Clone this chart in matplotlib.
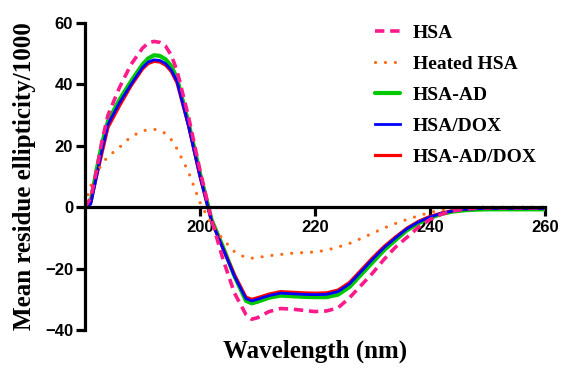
import matplotlib.pyplot as plt

# wavelength grid (nm) shared by all spectra
wl = [180, 181, 182, 183, 184, 186, 188, 190, 191, 192, 193, 194, 195, 196, 198, 200,
      202, 204, 206, 208, 209, 210, 212, 214, 216, 218, 220, 222, 224, 226,
      228, 230, 232, 234, 236, 238, 240, 242, 244, 246, 248, 250, 252, 254,
      256, 258, 260]

hsa = [0, 3, 12, 22, 30, 39, 46.5, 51.8, 53.5, 54, 53.7, 52.5, 49.5, 44.5, 29.5, 12,
       -4, -17, -28, -35, -36.5, -36, -34, -33, -33.2, -33.6, -34, -33.8, -32.8, -29.5,
       -25.5, -21.5, -17, -13, -9.8, -6.5, -4, -2.3, -1.2, -0.6, -0.3, -0.2, -0.2, -0.2,
       -0.2, -0.2, -0.2]

heated = [1, 7, 11, 14.3, 16.5, 19.5, 23, 24.8, 25.3, 25.4, 25, 24, 22, 19, 11.5, 1.5,
          -5.5, -10.5, -14.5, -16.5, -16.6, -16.4, -15.8, -15.4, -15, -14.8, -14.6, -14, -13, -11.8,
          -10.2, -8.5, -6.8, -5.3, -4, -2.8, -1.7, -0.9, -0.4, -0.2, 0, 0, 0, 0,
          0, 0, 0]

hsa_ad = [0, 2, 12, 21, 28, 35, 41, 46.5, 48.5, 49.5, 49.3, 48.2, 46, 42, 27.5, 11,
          -4, -13, -22.5, -30.5, -31.3, -30.8, -29.5, -28.8, -29, -29.2, -29.3, -29.3, -28.5, -26,
          -22, -18, -14, -10.7, -7.5, -5.2, -3.5, -2.2, -1.4, -1, -0.8, -0.7, -0.7, -0.7,
          -0.7, -0.7, -0.7]

hsa_dox = [0, 1, 10, 19, 27, 34, 40, 45.5, 47.3, 48, 47.8, 46.8, 44.7, 41, 26.5, 10,
           -4.5, -13.5, -22.5, -29.8, -30.5, -30, -28.8, -28, -28.2, -28.4, -28.5, -28.4, -27.5, -25,
           -21, -17, -13.2, -10, -7, -4.8, -3.2, -2, -1.2, -0.7, -0.5, -0.4, -0.4, -0.4,
           -0.4, -0.4, -0.4]

hsa_ad_dox = [0, 1.5, 10, 18, 26, 33, 39.5, 45, 46.8, 47.5, 47.3, 46.3, 44.2, 40.5, 26.5, 10,
              -4.5, -13.5, -22, -29.3, -30, -29.5, -28.3, -27.5, -27.7, -27.9, -28, -27.9, -27, -24.5,
              -20.5, -16.5, -12.8, -9.7, -6.8, -4.6, -3, -1.9, -1.1, -0.6, -0.4, -0.3, -0.3, -0.3,
              -0.3, -0.3, -0.3]

fig = plt.figure(figsize=(5.63, 3.72), dpi=100)
ax = fig.add_axes([85/563, 1-330/372, 460/563, 307/372])

l3, = ax.plot(wl, hsa_ad, color='#00c800', lw=3.0, label='HSA-AD', solid_capstyle='round')
l5, = ax.plot(wl, hsa_ad_dox, color='#ff0000', lw=2.3, label='HSA-AD/DOX')
l4, = ax.plot(wl, hsa_dox, color='#0000ff', lw=2.0, label='HSA/DOX')
l2, = ax.plot(wl, heated, color='#ff6a13', lw=2.3, linestyle=(0, (0.01, 3.1)),
              dash_capstyle='round', label='Heated HSA')
l1, = ax.plot(wl, hsa, color='#ff1a8c', lw=2.6, linestyle=(0, (2.6, 1.6)), label='HSA')

ax.set_xlim(180, 260)
ax.set_ylim(-40, 60)
ax.set_xticks([200, 220, 240, 260])
ax.set_yticks([-40, -20, 0, 20, 40, 60])

for s in ['top', 'right']:
    ax.spines[s].set_visible(False)
ax.spines['bottom'].set_position(('data', 0))
for s in ['left', 'bottom']:
    ax.spines[s].set_linewidth(2.3)
ax.tick_params(width=2.3, length=6.5, direction='out', pad=2)
ax.tick_params(axis='x', pad=3)
for lab in ax.get_xticklabels() + ax.get_yticklabels():
    lab.set_fontfamily('Liberation Sans')
    lab.set_fontweight('bold')
    lab.set_fontsize(12)

ax.set_xlabel('Wavelength (nm)', fontfamily='Liberation Serif', fontweight='bold', fontsize=18)
ax.xaxis.set_label_coords(0.5, -0.03)
ax.set_ylabel('Mean residue ellipticity/1000', fontfamily='Liberation Serif',
              fontweight='bold', fontsize=18)
ax.yaxis.set_label_coords(-0.107, 0.5)

leg = ax.legend(handles=[l1, l2, l3, l4, l5], loc='upper left',
                bbox_to_anchor=(375/563, 1-24/372), bbox_transform=fig.transFigure,
                frameon=False, borderpad=0, borderaxespad=0, handlelength=1.3,
                handletextpad=0.65, labelspacing=0.69,
                prop={'family': 'Liberation Serif', 'weight': 'bold', 'size': 14})

fig.savefig('out.png', dpi=100)
